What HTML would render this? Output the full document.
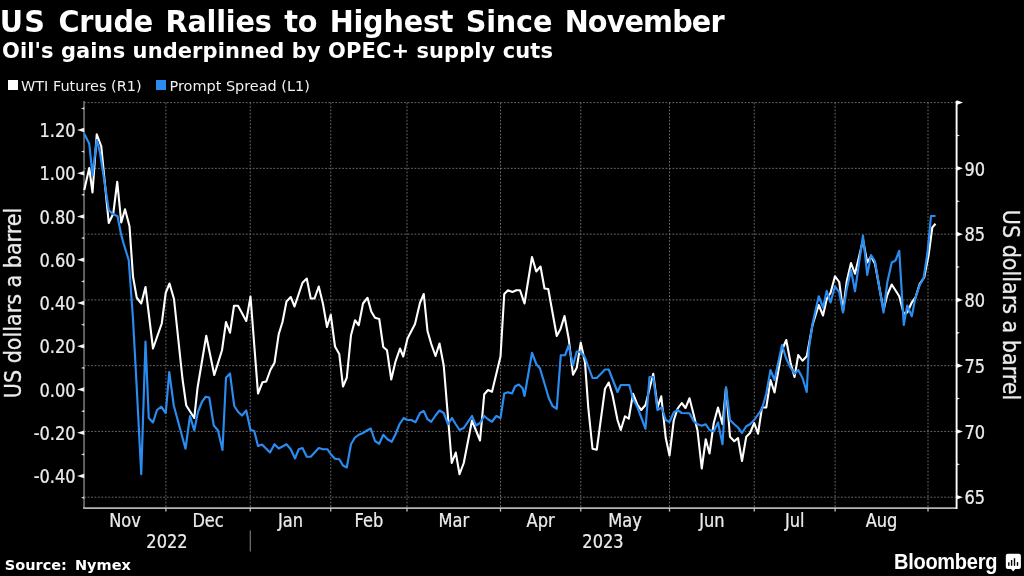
<!DOCTYPE html>
<html lang="en"><head><meta charset="utf-8"><title>US Crude Rallies to Highest Since November</title>
<style>
html,body{margin:0;padding:0;background:#000;}
body{width:1024px;height:576px;position:relative;overflow:hidden;color:#fff;font-family:"DejaVu Sans", "Liberation Sans", sans-serif;}
.t{position:absolute;white-space:nowrap;line-height:1;}
.title{left:-0.2px;top:8.1px;font-size:28.7px;font-weight:bold;word-spacing:2.7px;letter-spacing:-0.2px;transform:scaleY(1.04);transform-origin:0 80%;}
.sub{left:2px;top:41.1px;font-size:21px;font-weight:bold;letter-spacing:0.08px;transform:scaleY(1.05);transform-origin:0 80%;}
.leg{font-size:14.45px;top:78.9px;color:#f0f0f0;}
.sq{position:absolute;width:10.2px;height:10.2px;top:80.3px;}
.src{left:4.8px;top:557.8px;font-size:14.5px;font-weight:bold;word-spacing:3px;}
.bb{left:894px;top:552.1px;font-size:21.3px;font-weight:bold;font-family:"Liberation Sans",sans-serif;letter-spacing:-0.3px;transform:scaleX(0.94);transform-origin:0 0}
</style></head><body>
<svg width="1024" height="576" viewBox="0 0 1024 576" style="position:absolute;left:0;top:0">
<g stroke="#747474" stroke-width="0.9" stroke-dasharray="1.8 1.64" fill="none">
<line x1="165.9" y1="102.6" x2="165.9" y2="507.8"/>
<line x1="250.25" y1="102.6" x2="250.25" y2="507.8"/>
<line x1="330.75" y1="102.6" x2="330.75" y2="507.8"/>
<line x1="407" y1="102.6" x2="407" y2="507.8"/>
<line x1="500.5" y1="102.6" x2="500.5" y2="507.8"/>
<line x1="580.75" y1="102.6" x2="580.75" y2="507.8"/>
<line x1="669.5" y1="102.6" x2="669.5" y2="507.8"/>
<line x1="754.25" y1="102.6" x2="754.25" y2="507.8"/>
<line x1="835.1" y1="102.6" x2="835.1" y2="507.8"/>
<line x1="928" y1="102.6" x2="928" y2="507.8"/>
<line x1="84.2" y1="102.6" x2="956.6" y2="102.6"/>
<line x1="84.2" y1="168.367" x2="956.6" y2="168.367"/>
<line x1="84.2" y1="234.133" x2="956.6" y2="234.133"/>
<line x1="84.2" y1="299.9" x2="956.6" y2="299.9"/>
<line x1="84.2" y1="365.667" x2="956.6" y2="365.667"/>
<line x1="84.2" y1="431.433" x2="956.6" y2="431.433"/>
<line x1="84.2" y1="497.2" x2="956.6" y2="497.2"/>
</g>
<path d="M84.05 101.1 V508.1" fill="none" stroke="#626262" stroke-width="1.9"/>
<path d="M83.10000000000001 508.1 H956.6" fill="none" stroke="#b4b4b4" stroke-width="1.7"/>
<path d="M956.6 508.95 V101.1" fill="none" stroke="#ffffff" stroke-width="1.9"/>
<line x1="165.9" y1="507.8" x2="165.9" y2="511.6" stroke="#c4c4c4" stroke-width="1.3"/>
<line x1="250.25" y1="507.8" x2="250.25" y2="511.6" stroke="#c4c4c4" stroke-width="1.3"/>
<line x1="330.75" y1="507.8" x2="330.75" y2="511.6" stroke="#c4c4c4" stroke-width="1.3"/>
<line x1="407" y1="507.8" x2="407" y2="511.6" stroke="#c4c4c4" stroke-width="1.3"/>
<line x1="500.5" y1="507.8" x2="500.5" y2="511.6" stroke="#c4c4c4" stroke-width="1.3"/>
<line x1="580.75" y1="507.8" x2="580.75" y2="511.6" stroke="#c4c4c4" stroke-width="1.3"/>
<line x1="669.5" y1="507.8" x2="669.5" y2="511.6" stroke="#c4c4c4" stroke-width="1.3"/>
<line x1="754.25" y1="507.8" x2="754.25" y2="511.6" stroke="#c4c4c4" stroke-width="1.3"/>
<line x1="835.1" y1="507.8" x2="835.1" y2="511.6" stroke="#c4c4c4" stroke-width="1.3"/>
<line x1="928" y1="507.8" x2="928" y2="511.6" stroke="#c4c4c4" stroke-width="1.3"/>
<line x1="250.25" y1="530.5" x2="250.25" y2="551.5" stroke="#8c8c8c" stroke-width="1"/>
<path d="M84.2 496.525 v2.2 l-3.2 -1.1 z" fill="#e0e0e0"/>
<path d="M84.2 473.7 v4.6 l-7.2 -2.3 z" fill="#f2f2f2"/>
<path d="M84.2 453.275 v2.2 l-3.2 -1.1 z" fill="#e0e0e0"/>
<path d="M84.2 430.45 v4.6 l-7.2 -2.3 z" fill="#f2f2f2"/>
<path d="M84.2 410.025 v2.2 l-3.2 -1.1 z" fill="#e0e0e0"/>
<path d="M84.2 387.2 v4.6 l-7.2 -2.3 z" fill="#f2f2f2"/>
<path d="M84.2 366.775 v2.2 l-3.2 -1.1 z" fill="#e0e0e0"/>
<path d="M84.2 343.95 v4.6 l-7.2 -2.3 z" fill="#f2f2f2"/>
<path d="M84.2 323.525 v2.2 l-3.2 -1.1 z" fill="#e0e0e0"/>
<path d="M84.2 300.7 v4.6 l-7.2 -2.3 z" fill="#f2f2f2"/>
<path d="M84.2 280.275 v2.2 l-3.2 -1.1 z" fill="#e0e0e0"/>
<path d="M84.2 257.45 v4.6 l-7.2 -2.3 z" fill="#f2f2f2"/>
<path d="M84.2 237.025 v2.2 l-3.2 -1.1 z" fill="#e0e0e0"/>
<path d="M84.2 214.2 v4.6 l-7.2 -2.3 z" fill="#f2f2f2"/>
<path d="M84.2 193.775 v2.2 l-3.2 -1.1 z" fill="#e0e0e0"/>
<path d="M84.2 170.95 v4.6 l-7.2 -2.3 z" fill="#f2f2f2"/>
<path d="M84.2 150.525 v2.2 l-3.2 -1.1 z" fill="#e0e0e0"/>
<path d="M84.2 127.7 v4.6 l-7.2 -2.3 z" fill="#f2f2f2"/>
<path d="M84.2 107.275 v2.2 l-3.2 -1.1 z" fill="#e0e0e0"/>
<path d="M956.6 494.9 v4.6 l6.4 -2.3 z" fill="#ffffff"/>
<path d="M956.6 463.217 v2.2 l3.4 -1.1 z" fill="#ffffff"/>
<path d="M956.6 429.133 v4.6 l6.4 -2.3 z" fill="#ffffff"/>
<path d="M956.6 397.45 v2.2 l3.4 -1.1 z" fill="#ffffff"/>
<path d="M956.6 363.367 v4.6 l6.4 -2.3 z" fill="#ffffff"/>
<path d="M956.6 331.683 v2.2 l3.4 -1.1 z" fill="#ffffff"/>
<path d="M956.6 297.6 v4.6 l6.4 -2.3 z" fill="#ffffff"/>
<path d="M956.6 265.917 v2.2 l3.4 -1.1 z" fill="#ffffff"/>
<path d="M956.6 231.833 v4.6 l6.4 -2.3 z" fill="#ffffff"/>
<path d="M956.6 200.15 v2.2 l3.4 -1.1 z" fill="#ffffff"/>
<path d="M956.6 166.067 v4.6 l6.4 -2.3 z" fill="#ffffff"/>
<path d="M956.6 134.383 v2.2 l3.4 -1.1 z" fill="#ffffff"/>
<path d="M956.6 100.3 v4.6 l6.4 -2.3 z" fill="#ffffff"/>
<polyline points="84.25,190 89.25,168 92.5,192.5 96.75,134.25 101.25,146.25 108.75,223 113.25,213.75 117.25,181.75 121.25,222.5 125,209.25 129.5,226.25 133,276.5 136.75,297.75 141.25,303.5 145.5,287 153,348.5 161.75,323.5 165.75,292.75 169.5,283.5 174,299 182.5,379 186.25,405.5 194.25,418 197.5,388 206.25,335.75 214.25,375 222,350.25 226,322 230,332.75 234,305.75 238,305.75 246.25,321 250.5,296.5 258,393.5 262.5,382.25 266.25,381.5 270.5,369.75 274.5,362.75 278.75,334 282.5,322 286.5,301.5 290.75,297 294.5,306.5 302.5,282.75 306.75,278.5 310.75,298.5 314.5,298.5 318.75,286.5 323,304 327,327 330.75,314.75 335,346.5 339.25,354 343,386.5 346.75,377.75 351,335.25 355,320.25 358.75,325.25 363,303.5 367.5,297.75 371.25,311.5 375,317.75 379.25,319 383.25,347 387,350.25 391.25,379.5 395.5,361.5 400,348.5 403.25,356.5 407.5,338.5 415,324 420,302.75 423.75,294 427.5,331 431.25,344 435.5,356 439.5,343.5 443.75,365.75 451.75,463 455.75,452.5 459.5,474.25 463.75,463 472,420.5 480,440.5 484.25,394.25 488,390 492,391.75 500.5,356.5 504.25,294 508,290.25 512.5,292 516.25,290.25 520,290.25 524.5,303.5 532,257 536.25,271.5 540.5,266.5 544.5,288.5 548.25,289 556.75,336 560.5,329 564.5,316 568.75,339 573,374.75 576.75,367.75 580.75,342.75 585,362.5 588.25,407.5 592.5,448.75 596.75,449.75 605,388.75 608.75,382.5 612.5,395 617.5,420 620.75,430 625,416.25 628.75,418.75 633,393.75 637.5,405 641.25,410 645.5,405 653.25,373.75 657.5,407.5 661.25,396.25 665.75,438 669.5,455.5 673.75,420.5 677.5,408.75 681.75,403 685.5,408 689.5,398.25 693.75,415 697.5,430.5 701.75,468.5 705.75,439.25 709.5,453.5 713.75,423 718,407.5 722.5,424.25 726,387.5 730,436.75 734.25,441.25 738,438 742,461 746.25,436.75 750,433 754.25,423 758,433.75 762,407.5 766.25,407.5 770.5,380 774.5,392.5 782,350 786.25,340 790.5,362.5 794.5,377 798.25,355 802.5,360.75 806.75,356.25 812.5,325 818.75,305 823,315.5 826.75,298.75 830.5,293 835,276.25 839.25,282 843,311.25 846.75,281.25 851,263 855,273.75 863,240 867.25,262.5 871,256.25 875,263.75 883.5,310 887.25,295 891.75,284.5 899.25,296.25 903.75,313.75 907.25,312.5 911.75,302.5 915.5,297.5 919.75,283.75 924.2,277.5 928.6,255 932.3,227.5 935.5,223.75" fill="none" stroke="#ffffff" stroke-width="2.1" stroke-linejoin="round"/>
<polyline points="84.25,133.75 89.25,143.75 92.5,175 96.75,140 100,152.5 108.75,210 112.5,213.75 117.5,216.25 121.25,235 123.75,244 128.75,260.25 133,319 136.75,388 141.25,474.25 145.5,341.5 148.75,418 153,422.5 157,410 161.25,406.75 165.75,413 169.25,372 173.75,405.5 185.5,448.75 190,416 194.25,430.5 198,411.75 202,401.75 205.75,396.75 209.25,397.5 213.75,425.5 218,430.5 222.5,450 226,377.75 230,373.5 234.25,406 238,411.75 242,415.5 246.25,410.5 250.5,430 254.25,431 258,446 262,444.5 270,452.5 274.5,444.25 278.75,448.5 286.5,444.25 290.75,449.25 295,458.5 298.75,449.25 302.5,448 306.75,456.75 310.75,456.75 318.75,448 323,449.25 327.5,449.25 330.75,454.25 335,458.75 339.25,459.25 343,465.5 346.75,467.5 351,444.25 355,437.5 358.75,434.75 363,433 367,430.5 370.75,428.5 375,441 379.25,443.75 383.25,434.75 387.5,439.25 391.75,441.75 395.5,434.25 399.5,424.25 403.75,418 407.5,420 411.25,420 415.5,422.25 420,413 423.75,411 427.5,419.25 431.25,421.75 435.5,415.5 439.5,410.5 443.75,413 448,424.25 452,418 455.75,424.25 459.5,430 463.75,428 472,416 476,425.5 480,423 484.25,416 488,419.25 492,421.75 496.25,416 500.5,418 504.25,393.5 508,392.25 512,393.5 515,386.5 518.75,384.5 522.5,388 524.5,396 532,352.75 536.25,364 540,368.5 545,385.25 548.75,398 552.5,406 556.75,408.75 560.75,355.25 565,355.25 568.75,345.25 573,365.25 576.75,351.5 580.75,352.25 585,357.5 592.5,378 596.75,378 605,369.5 608.75,369.5 617.5,392 620.75,385 629.25,385 633,398.75 637.5,407.5 645.5,428.75 649.5,377 653.25,377 657.5,410 661.75,407.5 665.75,420 669.5,422 673.75,412.5 677.5,410 681.75,413 689.5,413.25 693.75,421.25 697.5,424.25 701.75,425.75 705.75,424.25 709.5,430 713.75,431.25 718,422.5 722.5,444.25 726,387.5 730,420 734.25,424.25 738,427.5 742,433 746.25,426.25 750,424.25 754.25,420 762,408.75 766.25,393.75 770.5,370 774.5,380 782,345 786.25,358.75 790.5,367.5 794.5,373.75 798.25,370 802.5,378 806.75,392 808.75,350 812.5,323.75 818.75,296.25 823,307.5 826.75,290.75 830.5,302.5 835,286.25 839.25,292.5 843,312.5 846.75,288.75 851,270 855,291.25 863,235.5 867.25,275 871,255 875,261.25 883.5,312.5 887.25,282.5 891.75,262.5 895.5,260.5 899.25,250.75 903.75,325 907.25,305.5 911.75,316.25 915.5,297.5 919.75,285 923.5,278.75 927.5,252.5 931,216 935.5,216" fill="none" stroke="#2a8cf0" stroke-width="2.15" stroke-linejoin="round"/>
<g font-family='"DejaVu Sans Condensed", "DejaVu Sans", "Liberation Sans", sans-serif' font-size="19.7" fill="#ececec" stroke="#ececec" stroke-width="0.25">
<text transform="translate(75.6,137.2) scale(0.915,1)" text-anchor="end">1.20</text>
<text transform="translate(75.6,180.45) scale(0.915,1)" text-anchor="end">1.00</text>
<text transform="translate(75.6,223.7) scale(0.915,1)" text-anchor="end">0.80</text>
<text transform="translate(75.6,266.95) scale(0.915,1)" text-anchor="end">0.60</text>
<text transform="translate(75.6,310.2) scale(0.915,1)" text-anchor="end">0.40</text>
<text transform="translate(75.6,353.45) scale(0.915,1)" text-anchor="end">0.20</text>
<text transform="translate(75.6,396.7) scale(0.915,1)" text-anchor="end">0.00</text>
<text transform="translate(75.6,439.95) scale(0.915,1)" text-anchor="end">-0.20</text>
<text transform="translate(75.6,483.2) scale(0.915,1)" text-anchor="end">-0.40</text>
<text transform="translate(964.4,175.567) scale(0.915,1)">90</text>
<text transform="translate(964.4,241.333) scale(0.915,1)">85</text>
<text transform="translate(964.4,307.1) scale(0.915,1)">80</text>
<text transform="translate(964.4,372.867) scale(0.915,1)">75</text>
<text transform="translate(964.4,438.633) scale(0.915,1)">70</text>
<text transform="translate(964.4,504.4) scale(0.915,1)">65</text>
<text transform="translate(125.05,526.8) scale(0.915,1)" text-anchor="middle">Nov</text>
<text transform="translate(208.075,526.8) scale(0.915,1)" text-anchor="middle">Dec</text>
<text transform="translate(290.5,526.8) scale(0.915,1)" text-anchor="middle">Jan</text>
<text transform="translate(368.875,526.8) scale(0.915,1)" text-anchor="middle">Feb</text>
<text transform="translate(453.75,526.8) scale(0.915,1)" text-anchor="middle">Mar</text>
<text transform="translate(540.625,526.8) scale(0.915,1)" text-anchor="middle">Apr</text>
<text transform="translate(625.125,526.8) scale(0.915,1)" text-anchor="middle">May</text>
<text transform="translate(711.875,526.8) scale(0.915,1)" text-anchor="middle">Jun</text>
<text transform="translate(794.675,526.8) scale(0.915,1)" text-anchor="middle">Jul</text>
<text transform="translate(881.55,526.8) scale(0.915,1)" text-anchor="middle">Aug</text>
<text transform="translate(167,548) scale(0.915,1)" text-anchor="middle">2022</text>
<text transform="translate(603,548) scale(0.915,1)" text-anchor="middle">2023</text>
</g>
<g font-family='"DejaVu Sans Condensed", "DejaVu Sans", "Liberation Sans", sans-serif' font-size="23" fill="#ececec" stroke="#ececec" stroke-width="0.3">
<text transform="translate(20.6,303) rotate(-90)" text-anchor="middle">US dollars a barrel</text>
<text transform="translate(1003.2,305) rotate(90)" text-anchor="middle">US dollars a barrel</text>
</g>
<g transform="translate(1005.8,553.8)"><path d="M2 0 h11.1 a2 2 0 0 1 2 2 v11.1 a2 2 0 0 1 -2 2 h-3.6 l-2.1 2.6 l-2.1 -2.6 h-3.3 a2 2 0 0 1 -2 -2 v-11.1 a2 2 0 0 1 2 -2 z" fill="#fff"/><rect x="2.3" y="8.5" width="1.4" height="3.5" fill="#000"/><rect x="5.1" y="6.2" width="1.4" height="5.8" fill="#000"/><rect x="8" y="4.4" width="1.4" height="7.6" fill="#000"/><rect x="11" y="8.3" width="1.4" height="3.7" fill="#000"/></g>
</svg>
<div class="t title"><span style="letter-spacing:1.1px">US</span> Crude Rallies to Highest Since <span style="letter-spacing:-0.85px">November</span></div>
<div class="t sub">Oil's gains underpinned by OPEC+ supply cuts</div>
<div class="sq" style="left:7.8px;background:#fff"></div><div class="t leg" style="left:21px">WTI Futures (R1)</div>
<div class="sq" style="left:155.9px;background:#2a8cf0"></div><div class="t leg" style="left:169.5px">Prompt Spread (L1)</div>
<div class="t src">Source: Nymex</div>
<div class="t bb">Bloomberg</div>
</body></html>
